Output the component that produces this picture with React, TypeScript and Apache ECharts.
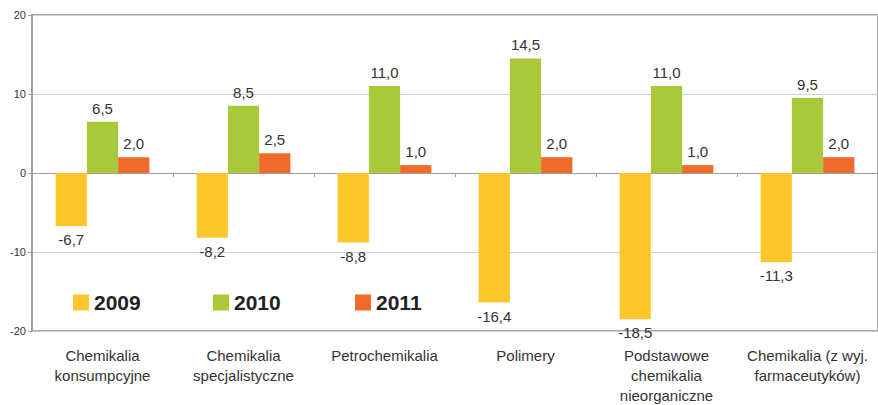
import React, { useEffect, useRef } from "react";
import * as echarts from "echarts";

const categories = [
  "Chemikalia\nkonsumpcyjne",
  "Chemikalia\nspecjalistyczne",
  "Petrochemikalia",
  "Polimery",
  "Podstawowe\nchemikalia\nnieorganiczne",
  "Chemikalia (z wyj.\nfarmaceutyków)",
];
const seriesNames = ["2009", "2010", "2011"];
const values2009 = [-6.7, -8.2, -8.8, -16.4, -18.5, -11.3];
const values2010 = [6.5, 8.5, 11.0, 14.5, 11.0, 9.5];
const values2011 = [2.0, 2.5, 1.0, 2.0, 1.0, 2.0];
const colors = ["#FDC72C", "#A9C93A", "#EF6A2B"];
const yTicks = { min: -20, max: 20, interval: 10 };

const FONT = "'Liberation Sans', Arial, sans-serif";

export default function App() {
  const ref = useRef<HTMLDivElement>(null);
  useEffect(() => {
    if (!ref.current) return;
    const chart = echarts.init(ref.current, null, { renderer: "svg" });
    const all = [values2009, values2010, values2011];
    const mk = (arr: number[]) =>
      arr.map((v) => ({
        value: v,
        label: { position: v < 0 ? "bottom" : "top" },
      }));
    const legendLefts = [73, 213, 355];
    chart.setOption({
      animation: false,
      textStyle: { fontFamily: FONT },
      grid: {
        left: 32,
        top: 15,
        width: 853,
        height: 318,
        show: true,
        borderColor: "#a8a8a8",
        borderWidth: 2,
        containLabel: false,
      },
      legend: seriesNames.map((n, i) => ({
        data: [n],
        left: legendLefts[i],
        top: 292,
        padding: 0,
        icon: "rect",
        itemWidth: 16,
        itemHeight: 16,
        itemGap: 0,
        selectedMode: false,
        textStyle: {
          fontFamily: FONT,
          fontSize: 21,
          fontWeight: "bold",
          color: "#222",
        },
      })),
      xAxis: [
        {
          type: "category",
          data: categories,
          position: "bottom",
          axisLine: { show: false, onZero: false },
          axisTick: { show: false },
          axisLabel: {
            interval: 0,
            margin: 14,
            fontSize: 15,
            lineHeight: 20,
            color: "#333",
            fontFamily: FONT,
          },
          splitLine: { show: false },
        },
        {
          type: "category",
          data: categories,
          position: "bottom",
          axisLine: { show: true, onZero: true, lineStyle: { color: "#a0a0a0", width: 1 } },
          axisTick: { show: true, length: 4, lineStyle: { color: "#a0a0a0" } },
          axisLabel: { show: false },
          splitLine: { show: false },
        },
      ],
      yAxis: {
        type: "value",
        min: yTicks.min,
        max: yTicks.max,
        interval: yTicks.interval,
        axisLine: { show: true, lineStyle: { color: "#a0a0a0", width: 2 } },
        axisTick: { show: true, length: 4, lineStyle: { color: "#a0a0a0" } },
        axisLabel: { fontSize: 11, color: "#333", margin: 6, fontFamily: FONT },
        splitLine: { show: true, lineStyle: { color: "#cfcfcf", width: 1 } },
      },
      series: all.map((arr, i) => ({
        name: seriesNames[i],
        type: "bar",
        xAxisIndex: 0,
        data: mk(arr),
        barGap: "0%",
        barCategoryGap: "33.5%",
        itemStyle: { color: colors[i] },
        label: {
          show: true,
          distance: 6,
          fontSize: 15,
          color: "#333",
          fontFamily: FONT,
          formatter: (p: any) => Number(p.value).toFixed(1).replace(".", ","),
        },
      })),
    });
    return () => chart.dispose();
  }, []);
  return (
    <div
      ref={ref}
      style={{ position: "fixed", left: 0, top: 0, width: 878, height: 405, background: "#fff" }}
    />
  );
}
